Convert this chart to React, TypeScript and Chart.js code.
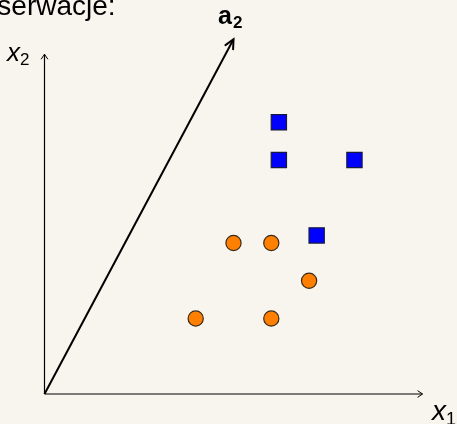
import React, { useEffect, useRef } from "react";
import { Chart, registerables } from "chart.js";

Chart.register(...registerables);

const circlePoints = [
  { x: 4, y: 2 },
  { x: 6, y: 2 },
  { x: 5, y: 4 },
  { x: 6, y: 4 },
  { x: 7, y: 3 },
];
const squarePoints = [
  { x: 6.2, y: 7.2 },
  { x: 6.2, y: 6.2 },
  { x: 8.2, y: 6.2 },
  { x: 7.2, y: 4.2 },
];
const vectorA2 = [
  { x: 0, y: 0 },
  { x: 5, y: 9.4 },
];
const xRange = [0, 10];
const yRange = [0, 9];
const titleText = "Obserwacje:";

const BG = "#f8f5ee";
const FONT = "'Liberation Sans', Arial, sans-serif";

function chevron(ctx: CanvasRenderingContext2D, x: number, y: number, angle: number, len: number, spread: number) {
  ctx.beginPath();
  ctx.moveTo(x - len * Math.cos(angle - spread), y - len * Math.sin(angle - spread));
  ctx.lineTo(x, y);
  ctx.lineTo(x - len * Math.cos(angle + spread), y - len * Math.sin(angle + spread));
  ctx.stroke();
}

const axesPlugin = {
  id: "axesPlugin",
  beforeDraw(chart: any) {
    const ctx = chart.ctx as CanvasRenderingContext2D;
    ctx.save();
    ctx.fillStyle = BG;
    ctx.fillRect(0, 0, chart.width, chart.height);
    ctx.restore();
  },
  beforeDatasetsDraw(chart: any) {
    const ctx = chart.ctx as CanvasRenderingContext2D;
    const xs = chart.scales.x;
    const ys = chart.scales.y;
    const ox = xs.getPixelForValue(xRange[0]);
    const oy = ys.getPixelForValue(yRange[0]);
    const xe = xs.getPixelForValue(xRange[1]);
    const ye = ys.getPixelForValue(yRange[1]);
    ctx.save();
    ctx.strokeStyle = "#000";
    ctx.lineWidth = 1.2;
    ctx.beginPath();
    ctx.moveTo(ox, oy);
    ctx.lineTo(xe, oy);
    ctx.moveTo(ox, oy);
    ctx.lineTo(ox, ye);
    ctx.stroke();
    ctx.lineWidth = 1;
    chevron(ctx, xe, oy, 0, 6, 0.6);
    chevron(ctx, ox, ye, -Math.PI / 2, 6, 0.6);
    ctx.restore();
  },
  afterDatasetsDraw(chart: any) {
    const ctx = chart.ctx as CanvasRenderingContext2D;
    const xs = chart.scales.x;
    const ys = chart.scales.y;
    const p0x = xs.getPixelForValue(vectorA2[0].x);
    const p0y = ys.getPixelForValue(vectorA2[0].y);
    const p1x = xs.getPixelForValue(vectorA2[1].x);
    const p1y = ys.getPixelForValue(vectorA2[1].y);
    const ang = Math.atan2(p1y - p0y, p1x - p0x);
    ctx.save();
    ctx.strokeStyle = "#000";
    ctx.lineWidth = 2;
    ctx.lineCap = "round";
    chevron(ctx, p1x, p1y, ang, 10, 0.45);

    ctx.fillStyle = "#000";
    ctx.textBaseline = "alphabetic";
    ctx.textAlign = "left";
    // title (partially cut)
    ctx.font = `28px ${FONT}`;
    ctx.fillText(titleText, -40, 15);
    // x2 label
    ctx.font = `italic 26px ${FONT}`;
    ctx.fillText("x", 7, 61);
    let w = ctx.measureText("x").width;
    ctx.font = `17px ${FONT}`;
    ctx.fillText("2", 7 + w, 65);
    // x1 label
    ctx.font = `italic 28px ${FONT}`;
    ctx.fillText("x", 432, 420);
    w = ctx.measureText("x").width;
    ctx.font = `18px ${FONT}`;
    ctx.fillText("1", 432 + w, 425);
    // a2 label
    ctx.font = `bold 25px ${FONT}`;
    ctx.fillText("a", 218, 24);
    w = ctx.measureText("a").width;
    ctx.font = `bold 17px ${FONT}`;
    ctx.fillText("2", 218 + w + 1, 28);
    ctx.restore();
  },
};

export default function App() {
  const ref = useRef<HTMLCanvasElement>(null);
  useEffect(() => {
    if (!ref.current) return;
    const chart = new Chart(ref.current, {
      type: "scatter",
      data: {
        datasets: [
          {
            label: "a2",
            data: vectorA2,
            showLine: true,
            borderColor: "#000",
            borderWidth: 2,
            pointRadius: 0,
            clip: false,
          } as any,
          {
            label: "squares",
            data: squarePoints,
            pointStyle: "rect",
            pointRadius: 10.8,
            backgroundColor: "#0000ff",
            borderColor: "#1a1a40",
            borderWidth: 1.2,
          },
          {
            label: "circles",
            data: circlePoints,
            pointStyle: "circle",
            pointRadius: 7.6,
            backgroundColor: "#ff8000",
            borderColor: "#3a2a1a",
            borderWidth: 1.2,
          },
        ],
      },
      options: {
        animation: false,
        responsive: true,
        maintainAspectRatio: false,
        layout: { padding: { left: 44.5, right: 34.5, top: 54.3, bottom: 30 } },
        plugins: { legend: { display: false }, tooltip: { enabled: false }, title: { display: false } },
        scales: {
          x: { type: "linear", min: xRange[0], max: xRange[1], display: false },
          y: { type: "linear", min: yRange[0], max: yRange[1], display: false },
        },
      },
      plugins: [axesPlugin],
    });
    return () => chart.destroy();
  }, []);
  return (
    <div style={{ position: "fixed", left: 0, top: 0, width: 457, height: 424, background: BG }}>
      <canvas ref={ref} width={457} height={424} />
    </div>
  );
}
